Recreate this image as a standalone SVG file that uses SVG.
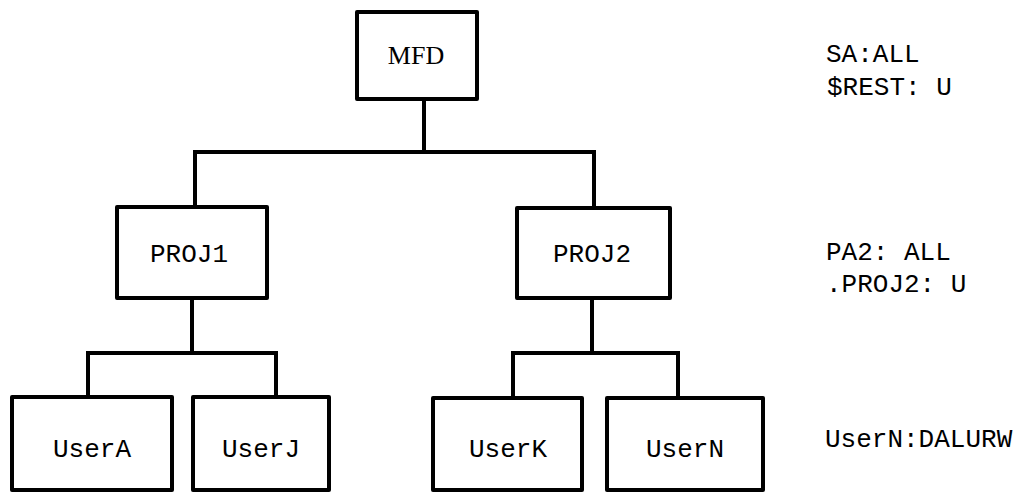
<svg xmlns="http://www.w3.org/2000/svg" width="1023" height="494" viewBox="0 0 1023 494">
<style>
.box{fill:#fff;stroke:#000;stroke-width:4;stroke-linejoin:round}
.ln{fill:none;stroke:#000;stroke-width:4;stroke-linejoin:round;stroke-linecap:square}
.t{font-family:"Liberation Mono","DejaVu Sans Mono",monospace;font-size:26px;fill:#000;text-anchor:middle}
.n{font-family:"Liberation Mono","DejaVu Sans Mono",monospace;font-size:26px;fill:#000}
.s{font-family:"Liberation Serif","DejaVu Serif",serif;font-size:26px;fill:#000;text-anchor:middle}
</style>
<rect width="1023" height="494" fill="#fff"/>
<g id="connectors">
<path class="ln" d="M424 99 V152 M195 152 H594 M195 152 V207 M594 152 V208"/>
<path class="ln" d="M192 298 V353 M88 353 H276 M88 353 V397 M276 353 V397"/>
<path class="ln" d="M592 298 V353 M513 353 H678 M513 353 V398 M678 353 V398"/>
</g>
<g id="MFD"><rect class="box" x="357" y="12" width="120" height="87"/><text class="s" x="416" y="64">MFD</text></g>
<g id="PROJ1"><rect class="box" x="117" y="207" width="150" height="91"/><text class="t" x="189" y="262" font-size="25">PROJ1</text></g>
<g id="PROJ2"><rect class="box" x="517" y="208" width="153" height="90"/><text class="t" x="592" y="262" font-size="25">PROJ2</text></g>
<g id="UserA"><rect class="box" x="12" y="397" width="160" height="93"/><text class="t" x="92" y="457">UserA</text></g>
<g id="UserJ"><rect class="box" x="193" y="397" width="136" height="93"/><text class="t" x="261" y="457">UserJ</text></g>
<g id="UserK"><rect class="box" x="433" y="398" width="149" height="92"/><text class="t" x="508" y="457">UserK</text></g>
<g id="UserN"><rect class="box" x="607" y="398" width="156" height="92"/><text class="t" x="685" y="457">UserN</text></g>
<g id="notes">
<text class="n" x="826" y="62">SA:ALL</text>
<text class="n" x="827" y="95">$REST: U</text>
<text class="n" x="826" y="260">PA2: ALL</text>
<text class="n" x="826" y="292">.PROJ2: U</text>
<text class="n" x="825" y="447">UserN:DALURW</text>
</g>
</svg>
